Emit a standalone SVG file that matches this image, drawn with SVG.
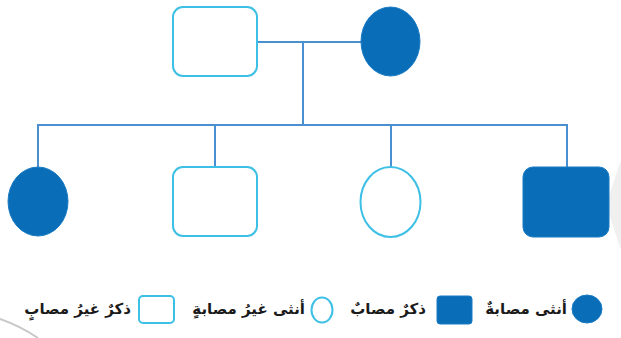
<svg xmlns="http://www.w3.org/2000/svg" width="621" height="338" viewBox="0 0 621 338">
  <style>
    .conn { stroke: #4a90d0; stroke-width: 2; fill: none; }
    .filled { fill: #0a6db8; stroke: #1a7cc4; stroke-width: 1; }
    .open { fill: #ffffff; stroke: #3ec0e6; stroke-width: 2; }
    .lbl { font-family: "DejaVu Sans", "Noto Sans", sans-serif; font-size: 15px; font-weight: bold; fill: #1a1a1a; }
  </style>
  <rect x="0" y="0" width="621" height="338" fill="#ffffff"/>
  <!-- faint page artifacts -->
  <polygon points="621,160 606,205 621,250" fill="#f0f0f0"/>
  <path d="M0,319 Q20,326 38,338" fill="none" stroke="#c8c8c8" stroke-width="2"/>

  <g id="connectors">
    <line class="conn" x1="257" y1="42" x2="361" y2="42"/>
    <line class="conn" x1="303" y1="42" x2="303" y2="125"/>
    <line class="conn" x1="38" y1="125" x2="567" y2="125"/>
    <line class="conn" x1="38" y1="124" x2="38" y2="167"/>
    <line class="conn" x1="215" y1="125" x2="215" y2="167"/>
    <line class="conn" x1="391" y1="125" x2="391" y2="167"/>
    <line class="conn" x1="567" y1="124" x2="567" y2="167"/>
  </g>

  <g id="father">
    <rect class="open" x="173" y="7" width="84" height="69" rx="10"/>
  </g>
  <g id="mother">
    <ellipse class="filled" cx="390.5" cy="41.5" rx="29.5" ry="34.5"/>
  </g>
  <g id="child1">
    <ellipse class="filled" cx="38" cy="201.5" rx="30" ry="34.5"/>
  </g>
  <g id="child2">
    <rect class="open" x="173" y="167" width="84" height="69" rx="10"/>
  </g>
  <g id="child3">
    <ellipse class="open" cx="390.5" cy="202" rx="30" ry="35"/>
  </g>
  <g id="child4">
    <rect class="filled" x="523" y="167" width="86" height="70" rx="10"/>
  </g>

  <g id="legend">
    <ellipse class="filled" cx="587" cy="309" rx="15" ry="14"/>
    <text class="lbl" x="567" y="314" text-anchor="end">أنثى مصابةٌ</text>
    <rect class="filled" x="437" y="296" width="35" height="28" rx="3"/>
    <text class="lbl" x="426" y="314" text-anchor="end">ذكرٌ مصابٌ</text>
    <ellipse class="open" cx="322" cy="310" rx="10.5" ry="12.5"/>
    <text class="lbl" x="305" y="314" text-anchor="end">أنثى غيرُ مصابةٍ</text>
    <rect class="open" x="139" y="296" width="35" height="27" rx="4"/>
    <text class="lbl" x="131" y="314" text-anchor="end">ذكرٌ غيرُ مصابٍ</text>
  </g>
</svg>
